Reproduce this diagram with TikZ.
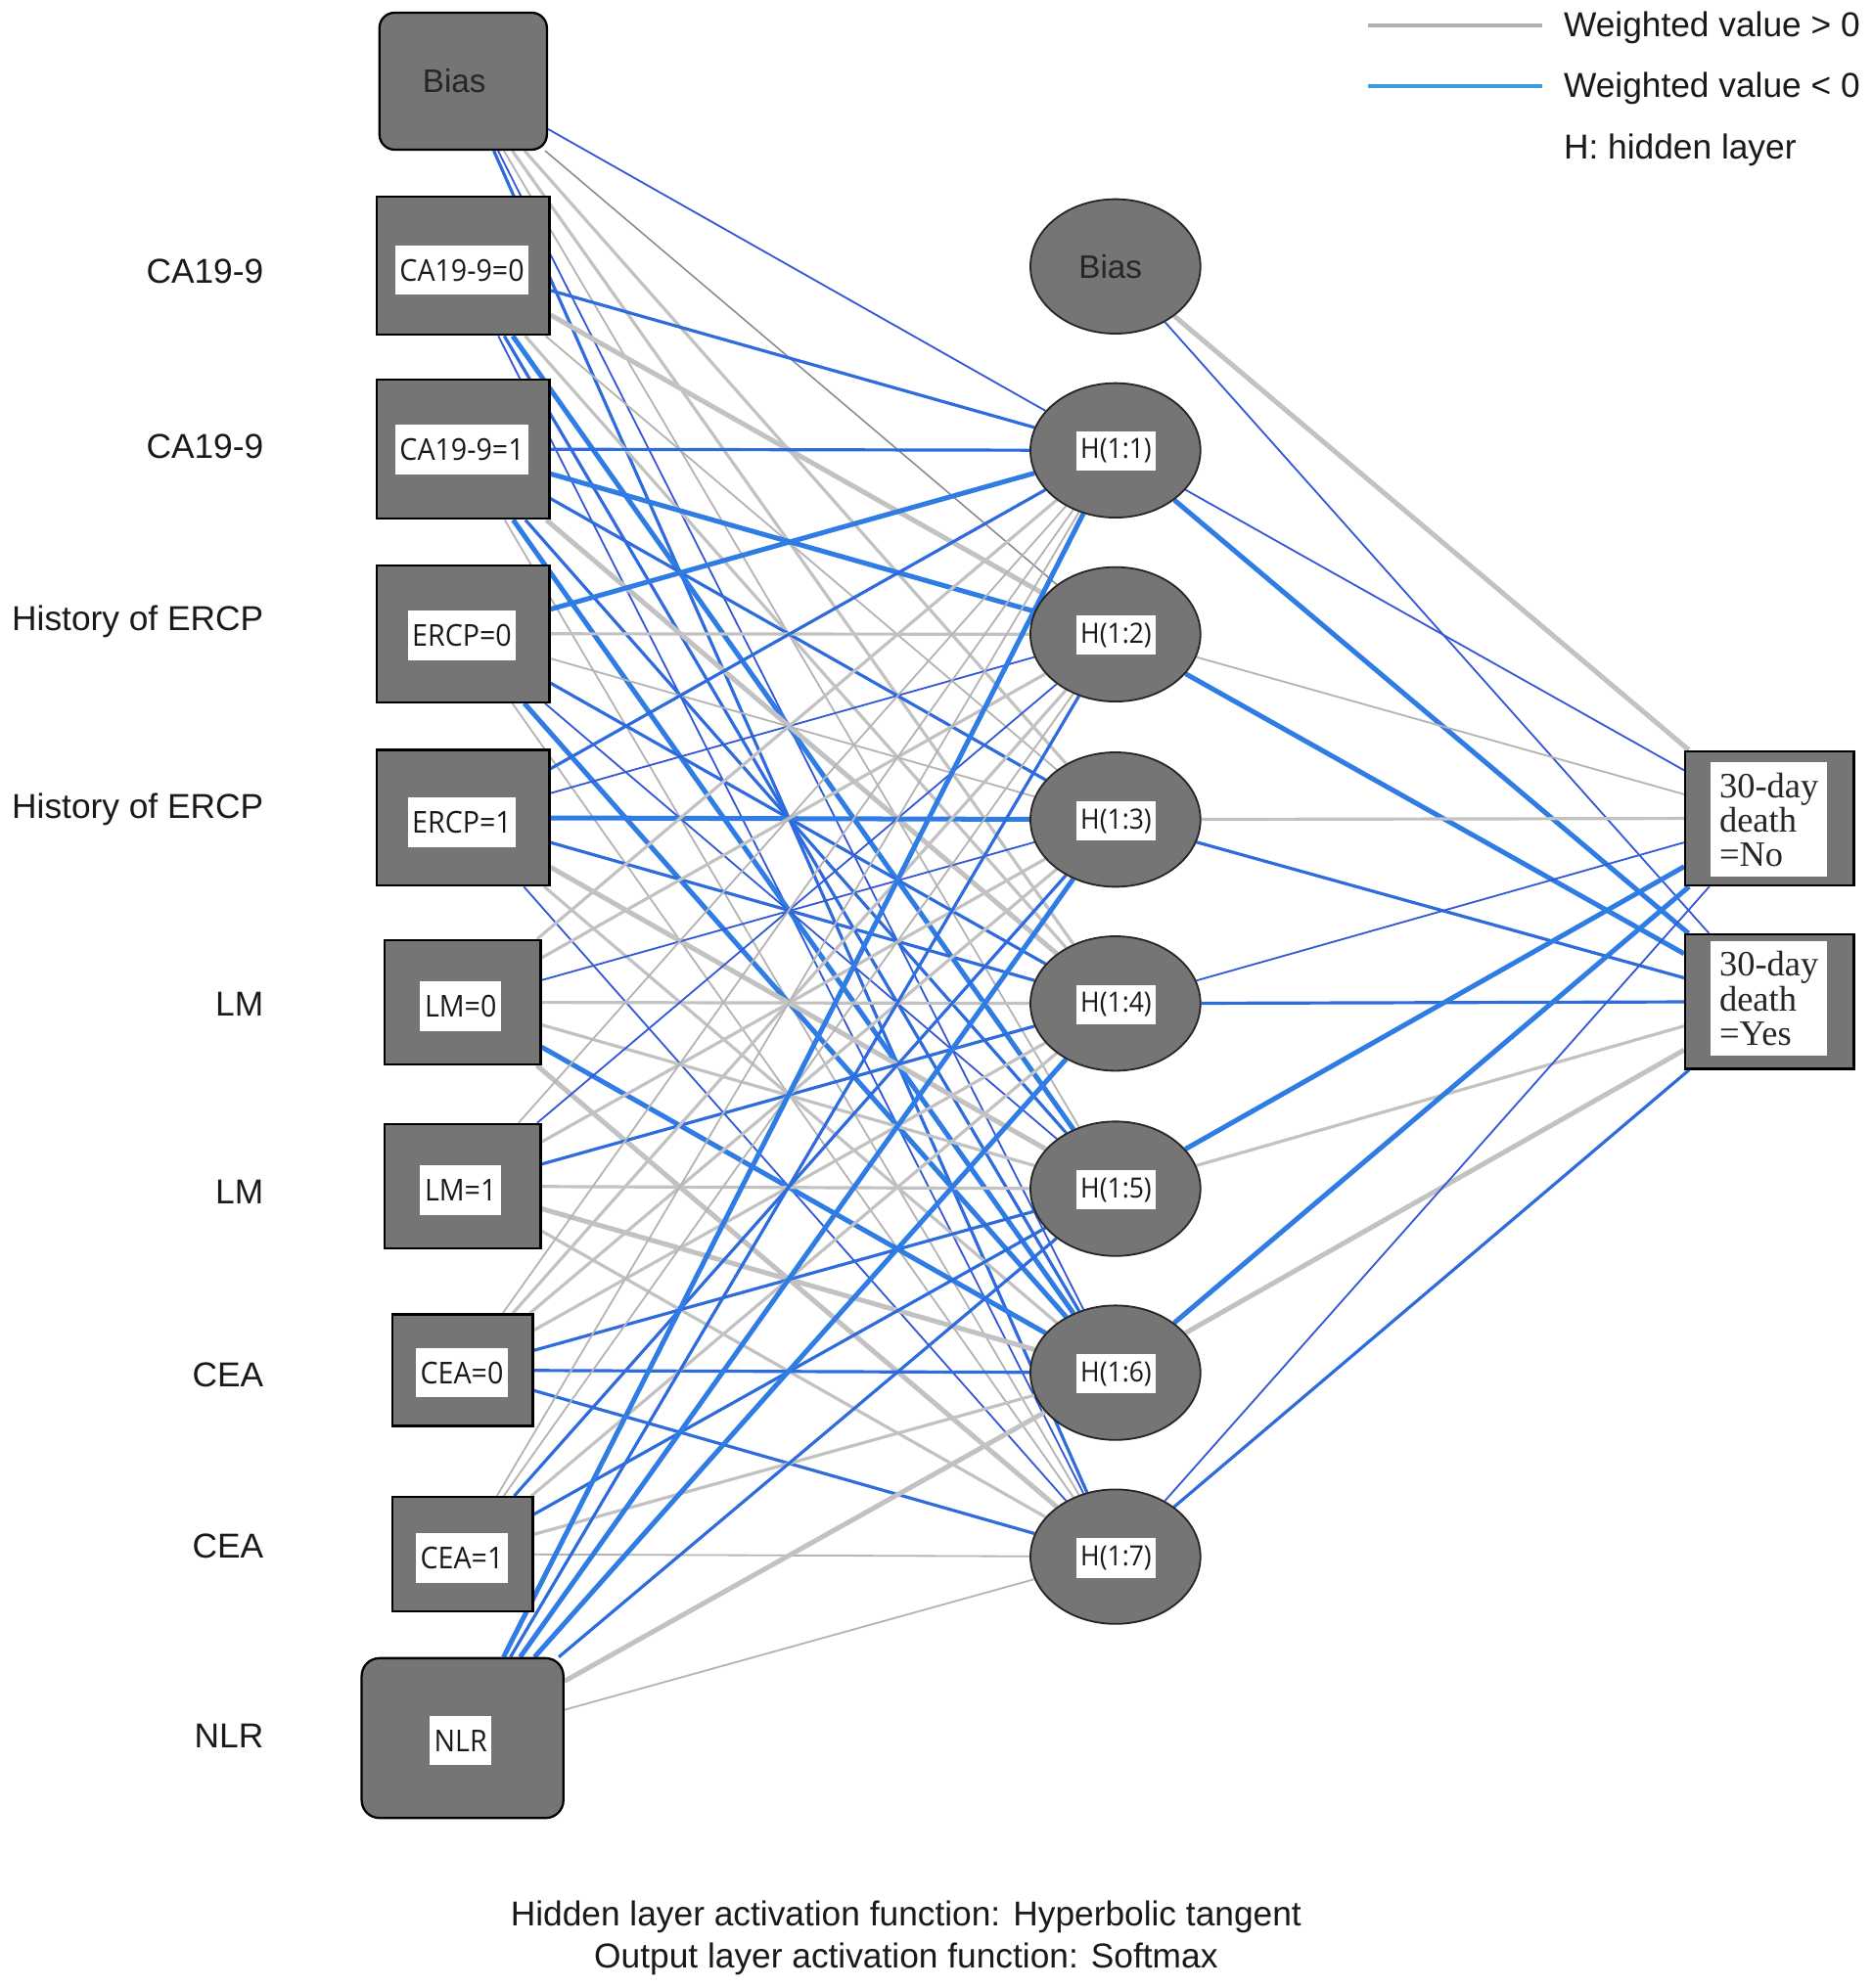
\documentclass[tikz,border=0pt]{standalone}
\usepackage{fontspec}
\setmainfont{Liberation Sans}
\newfontfamily\lblfont[FakeStretch=0.93]{Open Sans}
\newfontfamily\outfont{Liberation Serif}
\usetikzlibrary{shapes.geometric}
\pgfdeclarelayer{bg}
\pgfsetlayers{bg,main}
\definecolor{boxgray}{HTML}{757575}
\definecolor{blueA}{HTML}{3558D8}
\definecolor{blueB}{HTML}{2E6CDD}
\definecolor{blueC}{HTML}{2F7DE4}
\definecolor{grayA}{HTML}{B4B4B4}
\definecolor{grayB}{HTML}{C2C2C2}
\definecolor{grayD}{HTML}{8C8C8C}
\definecolor{legblue}{HTML}{3D9BE0}
\definecolor{leggray}{HTML}{B0B0B0}
\tikzset{
  inbox/.style={draw=black, line width=1pt, fill=boxgray, inner sep=0pt, rectangle},
  lbl/.style={fill=white, inner xsep=2pt, inner ysep=0pt, minimum height=0.78cm, font=\lblfont\fontsize{13.5}{15}\selectfont, text=black!90},
  hlbl/.style={fill=white, inner xsep=2pt, inner ysep=0pt, minimum height=0.62cm, font=\lblfont\fontsize{12.5}{15}\selectfont, text=black!90},
  hid/.style={ellipse, draw=black!85, line width=0.8pt, fill=boxgray, minimum width=2.68cm, minimum height=2.12cm, inner sep=0pt},
  outbox/.style={draw=black, line width=1pt, fill=boxgray, inner sep=0pt, minimum width=2.66cm, minimum height=2.12cm},
  outlbl/.style={fill=white, inner sep=0pt, minimum width=1.84cm, minimum height=1.8cm, font=\outfont\fontsize{16}{15.4}\selectfont, align=left, text=black!85},
  side/.style={anchor=base east, inner xsep=0pt, font=\fontsize{15.5}{18}\selectfont, text=black!90},
  legtxt/.style={anchor=base west, inner xsep=0pt, font=\fontsize{15.5}{18}\selectfont, text=black!90},
  biastxt/.style={font=\fontsize{14.6}{17}\selectfont, text=black!85},
  nb1/.style={draw=blueA, line width=0.8pt},
  nb2/.style={draw=blueB, line width=1.4pt},
  nb3/.style={draw=blueC, line width=2.2pt},
  pg1/.style={draw=grayA, line width=0.8pt},
  pg2/.style={draw=grayB, line width=1.4pt},
  pg3/.style={draw=grayB, line width=2.2pt},
  pgd/.style={draw=grayD, line width=0.7pt},
  legline/.style={line width=1.8pt}
}
\begin{document}
\begin{tikzpicture}[x=0.02cm, y=-0.02cm]
\useasboundingbox (0,0) rectangle (1475,1567);

% ---- input layer ----
\node[inbox, rounded corners=0.24cm, minimum width=2.64cm, minimum height=2.16cm] (ib) at (365,64) {};
\node[biastxt] (ibt) at (358,64) {Bias};
\node[inbox, minimum width=2.72cm, minimum height=2.18cm] (i1) at (365,209.5) {};
\node[inbox, minimum width=2.72cm, minimum height=2.2cm] (i2) at (365,354) {};
\node[inbox, minimum width=2.72cm, minimum height=2.16cm] (i3) at (365,499.5) {};
\node[inbox, minimum width=2.72cm, minimum height=2.14cm] (i4) at (365,644.5) {};
\node[inbox, minimum width=2.46cm, minimum height=1.96cm] (i5) at (364.5,790) {};
\node[inbox, minimum width=2.46cm, minimum height=1.96cm] (i6) at (364.5,935) {};
\node[inbox, minimum width=2.22cm, minimum height=1.76cm] (i7) at (364.5,1080) {};
\node[inbox, minimum width=2.22cm, minimum height=1.8cm] (i8) at (364.5,1225) {};
\node[inbox, rounded corners=0.28cm, minimum width=3.18cm, minimum height=2.52cm] (i9) at (364.5,1370) {};

\node[lbl] (l1) at (364,213) {CA19-9=0};
\node[lbl] (l2) at (364,354.5) {CA19-9=1};
\node[lbl] (l3) at (364,501) {ERCP=0};
\node[lbl] (l4) at (364,648) {ERCP=1};
\node[lbl] (l5) at (363,793) {LM=0};
\node[lbl] (l6) at (363,938) {LM=1};
\node[lbl] (l7) at (364,1082) {CEA=0};
\node[lbl] (l8) at (364,1228) {CEA=1};
\node[lbl] (l9) at (363,1372) {NLR};

\node[side] (s1) at (208,223) {CA19-9};
\node[side] (s2) at (208,361) {CA19-9};
\node[side] (s3) at (208,497) {History of ERCP};
\node[side] (s4) at (208,645) {History of ERCP};
\node[side] (s5) at (208,801) {LM};
\node[side] (s6) at (208,949) {LM};
\node[side] (s7) at (208,1093) {CEA};
\node[side] (s8) at (208,1228) {CEA};
\node[side] (s9) at (208,1378) {NLR};

% ---- hidden layer ----
\node[hid] (hb) at (879,210) {};
\node[biastxt] (hbt) at (875,210) {Bias};
\node[hid] (h1) at (879,355) {};
\node[hid] (h2) at (879,500) {};
\node[hid] (h3) at (879,646) {};
\node[hid] (h4) at (879,791) {};
\node[hid] (h5) at (879,937) {};
\node[hid] (h6) at (879,1082) {};
\node[hid] (h7) at (879,1227) {};
\node[hlbl] (hl1) at (879.5,355.5) {H(1:1)};
\node[hlbl] (hl2) at (879.5,500.5) {H(1:2)};
\node[hlbl] (hl3) at (879.5,647) {H(1:3)};
\node[hlbl] (hl4) at (879.5,792) {H(1:4)};
\node[hlbl] (hl5) at (879.5,938) {H(1:5)};
\node[hlbl] (hl6) at (879.5,1083) {H(1:6)};
\node[hlbl] (hl7) at (879.5,1228) {H(1:7)};

% ---- output layer ----
\node[outbox] (o1) at (1394.5,645) {};
\node[outbox] (o2) at (1394.5,789.5) {};
\node[outlbl] (ol1) at (1394,646) {30-day\\death\\=No};
\node[outlbl] (ol2) at (1394,787) {30-day\\death\\=Yes};

% ---- connections ----
\begin{pgfonlayer}{bg}
% Bias
\draw[nb1] (ib) -- (h1);
\draw[pgd] (ib) -- (h2);
\draw[pg2] (ib) -- (h3);
\draw[pg2] (ib) -- (h4);
\draw[pg1] (ib) -- (h5);
\draw[nb1] (ib) -- (h6);
\draw[nb2] (ib) -- (h7);
% CA19-9=0
\draw[nb2] (i1) -- (h1);
\draw[pg3] (i1) -- (h2);
\draw[pg1] (i1) -- (h3);
\draw[pg2] (i1) -- (h4);
\draw[nb3] (i1) -- (h5);
\draw[nb2] (i1) -- (h6);
\draw[nb1] (i1) -- (h7);
% CA19-9=1
\draw[nb2] (i2) -- (h1);
\draw[nb3] (i2) -- (h2);
\draw[nb2] (i2) -- (h3);
\draw[pg3] (i2) -- (h4);
\draw[nb2] (i2) -- (h5);
\draw[nb3] (i2) -- (h6);
\draw[pg1] (i2) -- (h7);
% ERCP=0
\draw[nb3] (i3) -- (h1);
\draw[pg2] (i3) -- (h2);
\draw[pg1] (i3) -- (h3);
\draw[nb2] (i3) -- (h4);
\draw[nb1] (i3) -- (h5);
\draw[nb3] (i3) -- (h6);
\draw[pg1] (i3) -- (h7);
% ERCP=1
\draw[nb2] (i4) -- (h1);
\draw[nb1] (i4) -- (h2);
\draw[nb3] (i4) -- (h3);
\draw[nb2] (i4) -- (h4);
\draw[pg3] (i4) -- (h5);
\draw[pg2] (i4) -- (h6);
\draw[nb1] (i4) -- (h7);
% LM=0
\draw[pg2] (i5) -- (h1);
\draw[pg2] (i5) -- (h2);
\draw[nb1] (i5) -- (h3);
\draw[pg2] (i5) -- (h4);
\draw[pg2] (i5) -- (h5);
\draw[nb3] (i5) -- (h6);
\draw[pg3] (i5) -- (h7);
% LM=1
\draw[pg1] (i6) -- (h1);
\draw[nb1] (i6) -- (h2);
\draw[pg2] (i6) -- (h3);
\draw[nb2] (i6) -- (h4);
\draw[pg2] (i6) -- (h5);
\draw[pg3] (i6) -- (h6);
\draw[pg2] (i6) -- (h7);
% CEA=0
\draw[pg1] (i7) -- (h1);
\draw[pg2] (i7) -- (h2);
\draw[pg2] (i7) -- (h3);
\draw[pg2] (i7) -- (h4);
\draw[nb2] (i7) -- (h5);
\draw[nb2] (i7) -- (h6);
\draw[nb2] (i7) -- (h7);
% CEA=1
\draw[pg1] (i8) -- (h1);
\draw[pg1] (i8) -- (h2);
\draw[nb2] (i8) -- (h3);
\draw[pg2] (i8) -- (h4);
\draw[nb2] (i8) -- (h5);
\draw[pg2] (i8) -- (h6);
\draw[pg1] (i8) -- (h7);
% NLR
\draw[nb3] (i9) -- (h1);
\draw[nb2] (i9) -- (h2);
\draw[nb3] (i9) -- (h3);
\draw[nb3] (i9) -- (h4);
\draw[nb2] (i9) -- (h5);
\draw[pg3] (i9) -- (h6);
\draw[pg1] (i9) -- (h7);
% hidden -> output
\draw[pg3] (hb) -- (o1);
\draw[nb1] (hb) -- (o2);
\draw[nb1] (h1) -- (o1);
\draw[nb3] (h1) -- (o2);
\draw[pg1] (h2) -- (o1);
\draw[nb3] (h2) -- (o2);
\draw[pg2] (h3) -- (o1);
\draw[nb2] (h3) -- (o2);
\draw[nb1] (h4) -- (o1);
\draw[nb2] (h4) -- (o2);
\draw[nb3] (h5) -- (o1);
\draw[pg2] (h5) -- (o2);
\draw[nb3] (h6) -- (o1);
\draw[pg3] (h6) -- (o2);
\draw[nb1] (h7) -- (o1);
\draw[nb2] (h7) -- (o2);
\end{pgfonlayer}

% ---- legend ----
\coordinate (lga) at (1078,20);
\coordinate (lgb) at (1215,20);
\coordinate (lgc) at (1078,68);
\coordinate (lgd) at (1215,68);
\draw[legline, draw=leggray] (lga) -- (lgb);
\draw[legline, draw=legblue] (lgc) -- (lgd);
\node[legtxt] (lt1) at (1232,29) {Weighted value > 0};
\node[legtxt] (lt2) at (1232,77) {Weighted value < 0};
\node[legtxt] (lt3) at (1232,125) {H: hidden layer};

% ---- footer ----
\node[font=\fontsize{15.5}{18}\selectfont, text=black!90] (f1) at (714,1511) {Hidden layer activation function: Hyperbolic tangent};
\node[font=\fontsize{15.5}{18}\selectfont, text=black!90] (f2) at (714,1544) {Output layer activation function: Softmax};
\end{tikzpicture}
\end{document}
